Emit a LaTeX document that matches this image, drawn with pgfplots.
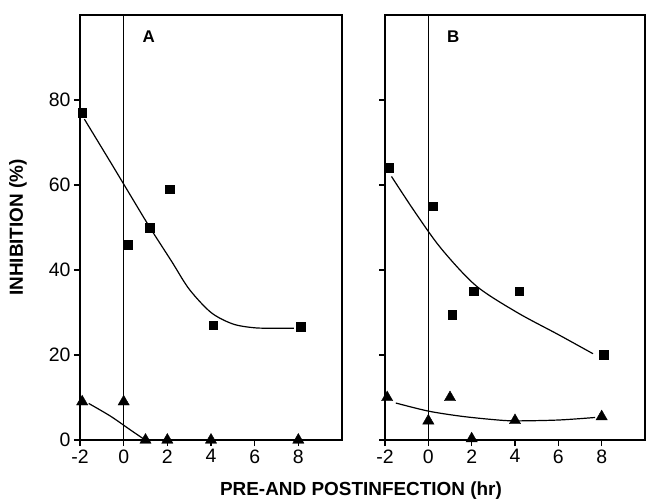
\documentclass[border=0pt]{standalone}
\usepackage{pgfplots}
\pgfplotsset{compat=1.18}
\usepackage{fontspec}
\setmainfont{Liberation Sans}

\pgfplotsset{panel/.style={
  scale only axis, height=425bp,
  xmin=-2, xmax=10, ymin=0, ymax=100,
  axis line style={line width=1.3bp},
  xtick={-2,0,2,4,6,8}, xticklabels={-2,0,2,4,6,8},
  ytick={0,20,40,60,80},
  tick align=outside, xtick pos=bottom, ytick pos=left,
  major tick length=6bp,
  every tick/.style={black, line width=1.1bp},
  tick label style={font=\fontsize{19.5}{21}\selectfont},
  clip=false,
},
curve/.style={black, line width=1.2bp, no marks, smooth},
sq/.style={only marks, mark=square*, mark size=4.3bp, mark options={fill=black}},
tri/.style={only marks, mark=triangle*, mark size=6.5bp, mark options={fill=black}},
vline/.style={black, line width=1bp, no marks},
}

\begin{document}
\begin{tikzpicture}
\path[use as bounding box] (-80bp,-60bp) rectangle (574bp,440bp);

% Panel A
\begin{axis}[panel, width=262bp, at={(0,0)}, anchor=south west,
  yticklabels={0,20,40,60,80},
  ylabel={INHIBITION (\%)},
  y label style={at={(axis description cs:-0.2366,0.5)}, anchor=center, font=\bfseries\fontsize{19}{21}\selectfont},
  xlabel={PRE-AND POSTINFECTION (hr)},
  x label style={at={(axis description cs:1.0725,-0.12)}, anchor=center, font=\bfseries\fontsize{19}{21}\selectfont},
]
\addplot[vline] coordinates {(0,0) (0,100)};
\addplot[curve] coordinates {(-1.8,75.5) (-0.5,64.5) (0.4,56.8) (1.2,50) (2.2,42) (3,35.5) (4,30) (5,27.3) (6,26.4) (7,26.3) (7.8,26.3)};
\addplot[curve] coordinates {(-1.6,8.6) (-0.6,5.6) (0.3,2.4) (0.9,0.3)};
\addplot[black, line width=1.2bp, no marks] coordinates {(1,0) (8,0)};
\addplot[sq] coordinates {(-1.9,77) (0.2,46) (1.2,50) (2.1,59) (4.1,27) (8.1,26.7)};
\addplot[tri] coordinates {(-1.9,9) (0,9) (1,0) (2,0) (4,0) (8,0)};
\node[font=\bfseries\fontsize{17}{18}\selectfont] at (axis cs:1.15,95) {A};
\end{axis}

% Panel B
\begin{axis}[panel, width=260bp, at={(305bp,0)}, anchor=south west,
  yticklabels={}]
\addplot[vline] coordinates {(0,0) (0,100)};
\addplot[curve] coordinates {(-1.7,62) (-0.6,53.5) (0.6,45) (2.2,36.3) (4.1,30) (6,24.8) (7.6,20.3)};
\addplot[curve] coordinates {(-1.5,8.7) (0,6.8) (1.5,5.6) (3,4.8) (4,4.5) (6,4.7) (7.7,5.3)};
\addplot[sq] coordinates {(-1.8,64) (0.2,55) (1.1,29.5) (2.1,35) (4.2,35) (8.1,20)};
\addplot[tri] coordinates {(-1.9,10) (0,4.5) (1,10) (2,0.3) (4,4.6) (8,5.5)};
\node[font=\bfseries\fontsize{17}{18}\selectfont] at (axis cs:1.15,95) {B};
\end{axis}
\end{tikzpicture}
\end{document}
